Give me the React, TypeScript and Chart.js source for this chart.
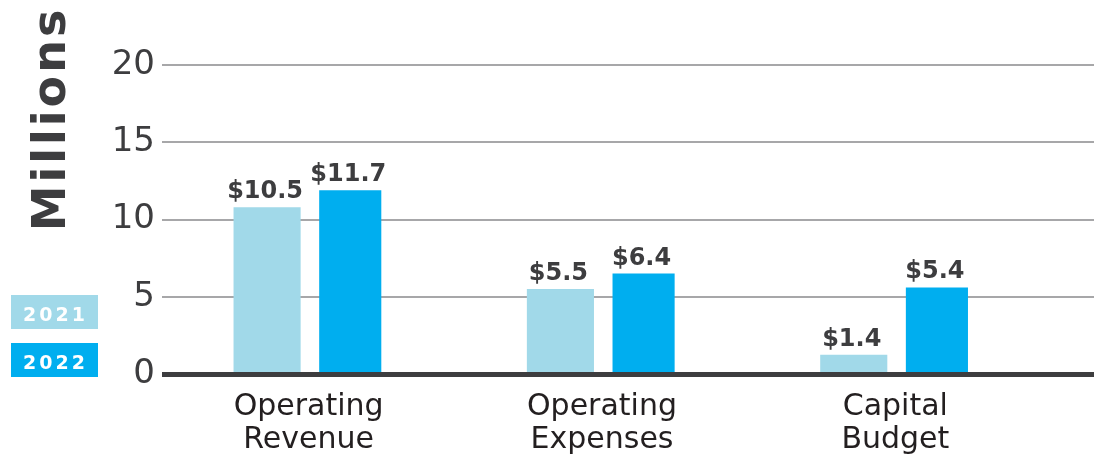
import React, { useEffect, useRef } from "react";
import { Chart, registerables } from "chart.js";

Chart.register(...registerables);

const CATEGORIES = [["Operating", "Revenue"], ["Operating", "Expenses"], ["Capital", "Budget"]];
const SERIES_NAMES = ["2021", "2022"];
const VALUES_2021 = [10.8, 5.5, 1.25];
const VALUES_2022 = [11.9, 6.5, 5.6];
const LABELS_2021 = ["$10.5", "$5.5", "$1.4"];
const LABELS_2022 = ["$11.7", "$6.4", "$5.4"];
const Y_TICKS = [0, 5, 10, 15, 20];
const AXIS_TITLE = "Millions";

const COLOR_2021 = "#a1d9e9";
const COLOR_2022 = "#00aeef";
const TEXT_DARK = "#3d3d3f";
const FONT = "'DejaVu Sans', sans-serif";

const customPlugin = {
  id: "customDecor",
  beforeDatasetsDraw(chart: any) {
    const { ctx, scales } = chart;
    const y = scales.y;
    ctx.save();
    ctx.strokeStyle = "#a7a7a9";
    ctx.lineWidth = 2;
    for (const t of Y_TICKS) {
      if (t === 0) continue;
      const py = Math.round(y.getPixelForValue(t));
      ctx.beginPath();
      ctx.moveTo(162, py);
      ctx.lineTo(chart.width, py);
      ctx.stroke();
    }
    ctx.restore();
  },
  afterDatasetsDraw(chart: any) {
    const { ctx, scales } = chart;
    const y = scales.y;
    ctx.save();
    // zero line
    const p0 = y.getPixelForValue(0);
    ctx.fillStyle = "#3d3d3f";
    ctx.fillRect(162, p0 - 2, chart.width - 162, 5);

    // data labels
    const labelSets = [LABELS_2021, LABELS_2022];
    ctx.font = `bold 24px ${FONT}`;
    ctx.fillStyle = TEXT_DARK;
    ctx.textAlign = "center";
    ctx.textBaseline = "alphabetic";
    chart.data.datasets.forEach((_ds: any, di: number) => {
      const meta = chart.getDatasetMeta(di);
      meta.data.forEach((bar: any, i: number) => {
        ctx.fillText(labelSets[di][i], bar.x - 2, bar.y - 9);
      });
    });

    // axis title
    ctx.save();
    ctx.translate(53, 119);
    ctx.rotate(-Math.PI / 2);
    ctx.font = `bold 46px ${FONT}`;
    (ctx as any).letterSpacing = "3px";
    ctx.fillStyle = TEXT_DARK;
    ctx.textAlign = "center";
    ctx.textBaseline = "middle";
    ctx.fillText(AXIS_TITLE, 0, 0);
    ctx.restore();

    // legend boxes
    const boxes = [
      { color: COLOR_2021, y: 295, name: SERIES_NAMES[0] },
      { color: COLOR_2022, y: 343, name: SERIES_NAMES[1] },
    ];
    for (const b of boxes) {
      ctx.fillStyle = b.color;
      ctx.fillRect(11, b.y, 87, 34);
      ctx.save();
      ctx.fillStyle = "#ffffff";
      ctx.font = `bold 19px ${FONT}`;
      (ctx as any).letterSpacing = "3px";
      ctx.textAlign = "center";
      ctx.textBaseline = "alphabetic";
      ctx.fillText(b.name, 55.5, b.y + 26);
      ctx.restore();
    }
    ctx.restore();
  },
};

export default function App() {
  const ref = useRef<HTMLCanvasElement | null>(null);
  useEffect(() => {
    if (!ref.current) return;
    const chart = new Chart(ref.current, {
      type: "bar",
      data: {
        labels: CATEGORIES as any,
        datasets: [
          {
            label: SERIES_NAMES[0],
            data: VALUES_2021,
            backgroundColor: COLOR_2021,
            barPercentage: 0.807,
            categoryPercentage: 0.567,
          },
          {
            label: SERIES_NAMES[1],
            data: VALUES_2022,
            backgroundColor: COLOR_2022,
            barPercentage: 0.747,
            categoryPercentage: 0.567,
          },
        ],
      },
      options: {
        responsive: false,
        animation: false,
        layout: { padding: { left: 0, right: 52, top: 65, bottom: 0 } },
        plugins: { legend: { display: false }, tooltip: { enabled: false } },
        scales: {
          x: {
            grid: { display: false, drawTicks: false },
            border: { display: false },
            ticks: {
              color: "#231f20",
              font: { family: FONT, size: 30, lineHeight: 1.1 },
              padding: 17,
              maxRotation: 0,
              autoSkip: false,
            },
            afterFit: (s: any) => {
              s.height = 80;
            },
          },
          y: {
            min: 0,
            max: 20,
            grid: { display: false, drawTicks: false },
            border: { display: false },
            ticks: {
              stepSize: 5,
              color: TEXT_DARK,
              font: { family: FONT, size: 34 },
              padding: 7,
            },
            afterFit: (s: any) => {
              s.width = 162;
            },
          },
        },
      },
      plugins: [customPlugin],
    });
    return () => chart.destroy();
  }, []);
  return (
    <div style={{ position: "fixed", left: 0, top: 0, width: 1094, height: 454, background: "#fff" }}>
      <canvas ref={ref} width={1094} height={454} />
    </div>
  );
}
